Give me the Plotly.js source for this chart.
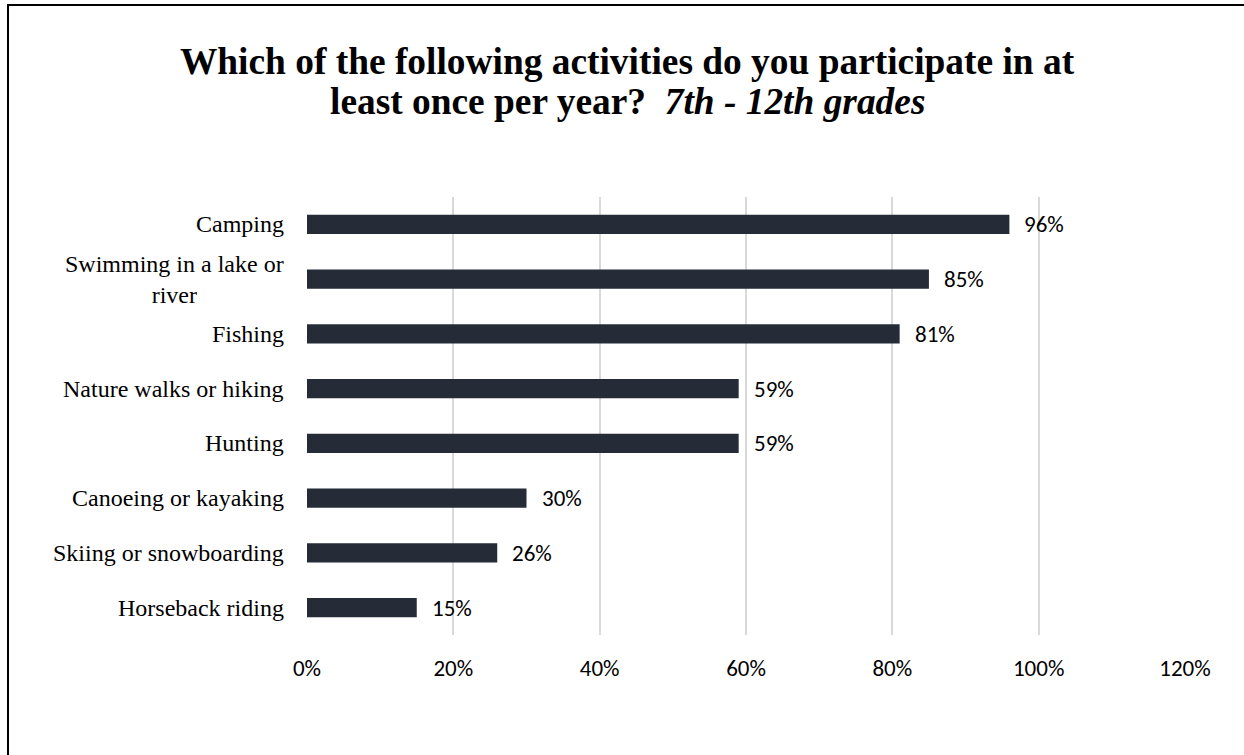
<!DOCTYPE html>
<html>
<head>
<meta charset="utf-8">
<script src="https://cdn.plot.ly/plotly-3.0.1.min.js"></script>
<style>
  html, body { margin: 0; padding: 0; background: #fff; overflow: hidden; }
  #chart { position: absolute; left: 0; top: 0; width: 1244px; height: 755px; }
  #frame { position: absolute; left: 7px; top: 4px; width: 1400px; height: 900px;
           border-left: 2px solid #000; border-top: 2px solid #000; pointer-events: none; box-sizing: border-box; }
</style>
</head>
<body>
<div id="chart"></div>
<div id="frame"></div>
<script>
const categories = ["Camping", "Swimming in a lake or<br>river", "Fishing", "Nature walks or hiking",
                    "Hunting", "Canoeing or kayaking", "Skiing or snowboarding", "Horseback riding"];
const values = [0.96, 0.85, 0.81, 0.59, 0.59, 0.30, 0.26, 0.15];
const tickValues = [0, 0.2, 0.4, 0.6, 0.8, 1.0, 1.2];
const tickLabels = ["0%", "20%", "40%", "60%", "80%", "100%", "120%"];
const titleLine1 = "Which of the following activities do you participate in at";
const titleLine2 = "least once per year?&nbsp;&nbsp;<i>7th - 12th grades</i>";

const sansFont = "Calibri, Carlito, Lato, 'Open Sans', sans-serif";
const serifFont = "'Times New Roman', 'Liberation Serif', serif";

const trace = {
  type: "bar",
  orientation: "h",
  x: values,
  y: categories,
  marker: { color: "#252b37" },
  hoverinfo: "none"
};

const titleX = 0.3645;
const annotations = [{
  x: titleX, xref: "paper", y: 1.219, yref: "paper",
  xanchor: "center", yanchor: "middle", showarrow: false,
  text: "<b>" + titleLine2 + "</b>",
  font: { family: serifFont, size: 37.4, color: "#000" }
}];
categories.forEach((c, i) => {
  annotations.push({
    x: 0, xref: "paper", y: c, yref: "y",
    xanchor: "right", yanchor: "middle", align: "center",
    xshift: -21, text: c, showarrow: false,
    font: { family: serifFont, size: 24, color: "#000" }
  });
  annotations.push({
    x: values[i], xref: "x", y: c, yref: "y",
    xanchor: "left", yanchor: "middle",
    xshift: 13, text: Math.round(values[i] * 100) + "%", showarrow: false,
    font: { family: sansFont, size: 23, color: "#000" }
  });
});

const layout = {
  width: 1244, height: 755,
  paper_bgcolor: "#fff", plot_bgcolor: "#fff",
  margin: { l: 307, r: 59, t: 197, b: 120 },
  showlegend: false,
  bargap: 0.646,
  title: {
    text: "<b>" + titleLine1 + "</b>",
    font: { family: serifFont, size: 37.4, color: "#000" },
    x: titleX, xanchor: "center", xref: "paper",
    y: 0.919, yanchor: "middle"
  },
  xaxis: {
    range: [0, 1.2],
    tickvals: tickValues, ticktext: tickLabels,
    showgrid: true, gridcolor: "#d9d9d9", gridwidth: 2,
    zeroline: false, showline: false,
    ticks: "outside", ticklen: 12, tickcolor: "rgba(0,0,0,0)",
    tickfont: { family: sansFont, size: 23, color: "#000" },
    fixedrange: true
  },
  yaxis: {
    type: "category",
    autorange: "reversed",
    showticklabels: false, showgrid: false, zeroline: false, showline: false,
    ticks: "", fixedrange: true
  },
  annotations: annotations
};

Plotly.newPlot("chart", [trace], layout, { displayModeBar: false, staticPlot: true });
</script>
</body>
</html>
